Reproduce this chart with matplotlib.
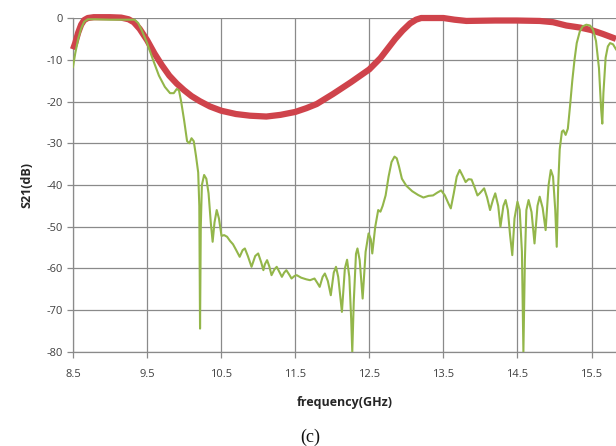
import matplotlib
matplotlib.use('Agg')
import matplotlib.pyplot as plt

plt.rcParams['axes.unicode_minus'] = False

green_f = [8.50, 8.53, 8.57, 8.61, 8.65, 8.70, 8.80, 9.00, 9.20, 9.33, 9.38, 9.43,
           9.50, 9.58, 9.66, 9.74, 9.81, 9.86, 9.90, 9.93, 9.96, 10.00, 10.04,
           10.07, 10.10, 10.13, 10.16, 10.19, 10.205, 10.215, 10.225, 10.24,
           10.27, 10.30, 10.33, 10.36, 10.385, 10.41, 10.44, 10.47, 10.505,
           10.54, 10.58, 10.62, 10.66, 10.70, 10.75, 10.79, 10.82, 10.86, 10.91,
           10.96, 11.00, 11.04, 11.07, 11.09, 11.12, 11.15, 11.18, 11.22, 11.25,
           11.29, 11.32, 11.35, 11.38, 11.42, 11.45, 11.49, 11.52, 11.58, 11.65,
           11.70, 11.76, 11.80, 11.83, 11.87, 11.90, 11.94, 11.98, 12.02, 12.05,
           12.08, 12.13, 12.17, 12.20, 12.23, 12.255, 12.27, 12.29, 12.32, 12.34,
           12.37, 12.41, 12.45, 12.49, 12.52, 12.54, 12.58, 12.62, 12.65, 12.68,
           12.72, 12.76, 12.80, 12.84, 12.87, 12.90, 12.94, 13.00, 13.08, 13.16,
           13.23, 13.30, 13.36, 13.42, 13.47, 13.52, 13.57, 13.60, 13.64, 13.68,
           13.72, 13.76, 13.80, 13.84, 13.88, 13.92, 13.96, 13.99, 14.05, 14.09,
           14.13, 14.17, 14.20, 14.24, 14.27, 14.31, 14.34, 14.37, 14.40, 14.43,
           14.46, 14.50, 14.53, 14.56, 14.58, 14.60, 14.62, 14.65, 14.69, 14.73,
           14.77, 14.80, 14.84, 14.88, 14.92, 14.95, 14.98, 15.01, 15.03, 15.05,
           15.07, 15.10, 15.12, 15.15, 15.18, 15.21, 15.24, 15.27, 15.30, 15.34,
           15.38, 15.43, 15.48, 15.52, 15.56, 15.60, 15.63, 15.645, 15.66, 15.69,
           15.72, 15.75, 15.79, 15.83]
green_db = [-11.7, -8.5, -5, -2.5, -0.9, -0.3, -0.3, -0.4, -0.4, -0.4, -1.2, -3,
            -6, -10, -13.8, -16.5, -18.0, -18.0, -17.0, -17.3, -20, -24.5, -29.5,
            -30.0, -28.8, -29.5, -33, -37, -45, -74.4, -50, -40,
            -37.6, -38.5, -42, -49, -53.6, -49, -46, -48, -52.2,
            -52, -52.4, -53.4, -54.2, -55.5, -57.2, -55.6, -55.2, -57, -59.6,
            -57, -56.4, -58.5, -60.4, -59, -58, -59.5, -61.6, -60.2, -59.6,
            -61, -62, -61, -60.4, -61.5, -62.4, -61.8, -61.6, -62.2, -62.6,
            -62.8, -62.4, -63.5, -64.4, -62, -61.2, -63, -66.4, -61, -59.6,
            -62, -70.4, -60, -57.9, -62, -72, -80, -68, -56.5, -55.2,
            -58, -67.2, -56, -51.6, -53, -56.4, -50, -46, -46.4, -45,
            -42.5, -38, -34.5, -33.2, -33.6, -35.5, -38.5, -40.2, -41.5, -42.4,
            -43, -42.6, -42.5, -41.8, -41.3, -42.5, -44.5, -45.6, -42, -38,
            -36.4, -37.8, -39.3, -38.6, -38.7, -40.5, -42.5, -42, -40.8, -43,
            -46, -43.5, -42, -45, -50, -45, -43.6, -46, -52, -56.8,
            -48, -44, -46, -56, -80, -58, -46, -43.6, -46.5, -54,
            -45, -42.8, -45.5, -50.8, -40, -36.4, -38, -46, -54.8, -40,
            -31.5, -27.2, -26.9, -28, -26.5, -21, -15, -10, -6, -3.3,
            -2, -1.6, -1.8, -2.8, -5.5, -12, -22, -25.3, -18, -9.5,
            -6.8, -6, -6.3, -7.5]

# second S21 trace (red)
red_f = [8.50, 8.53, 8.57, 8.61, 8.65, 8.70, 8.78, 9.00, 9.15, 9.25, 9.32, 9.40,
         9.50, 9.60, 9.70, 9.80, 9.90, 10.00, 10.10, 10.21, 10.35, 10.50, 10.70,
         10.89, 11.11, 11.30, 11.50, 11.65, 11.79, 12.01, 12.25, 12.50, 12.65,
         12.75, 12.85, 12.95, 13.05, 13.13, 13.20, 13.50, 13.65, 13.81, 14.20,
         14.49, 14.80, 14.98, 15.16, 15.35, 15.50, 15.65, 15.83]
red_db = [-7.5, -6, -3.5, -1.6, -0.5, 0, 0.2, 0.2, 0.1, -0.3, -1, -2.6,
          -5.3, -8.5, -11.3, -13.8, -15.7, -17.3, -18.7, -19.9, -21.2, -22.2, -23,
          -23.4, -23.6, -23.2, -22.5, -21.6, -20.6, -18.2, -15.4, -12.3, -9.6,
          -7.3, -5, -3, -1.3, -0.4, 0, 0, -0.4, -0.7, -0.6,
          -0.6, -0.7, -1, -1.8, -2.3, -2.9, -3.8, -5]

x_ticks = [8.5, 9.5, 10.5, 11.5, 12.5, 13.5, 14.5, 15.5]
y_ticks = [0, -10, -20, -30, -40, -50, -60, -70, -80]

fig = plt.figure(figsize=(6.16, 4.46), dpi=100)
ax = fig.add_axes([0.1185, 0.2108, 0.8815, 0.7488])

grid_c = '#8a8a8a'
ax.plot(red_f, red_db, color='#cf434b', lw=4.5, solid_capstyle='butt',
        solid_joinstyle='round', zorder=3, clip_on=False)
ax.plot(green_f, green_db, color='#93b64a', lw=1.5, solid_joinstyle='round', zorder=4)

ax.set_xlim(8.5, 15.83)
ax.set_ylim(-80, 0)
ax.set_xticks(x_ticks)
ax.set_xticklabels([str(t) for t in x_ticks])
ax.set_yticks(y_ticks)
ax.grid(True, color=grid_c, lw=0.9)
ax.set_axisbelow(True)

for s in ['top', 'right']:
    ax.spines[s].set_visible(False)
for s in ['left', 'bottom']:
    ax.spines[s].set_color(grid_c)
    ax.spines[s].set_linewidth(0.9)

ax.tick_params(axis='both', colors=grid_c, length=4, width=0.9, direction='out',
               labelcolor='#404040', labelsize=8)
for lab in ax.get_xticklabels() + ax.get_yticklabels():
    lab.set_family('Open Sans')
ax.tick_params(axis='x', pad=8)

ax.set_xlabel('frequency(GHz)', fontsize=9, fontweight='bold', family='Open Sans',
              color='#262626', labelpad=12)
ax.set_ylabel('S21(dB)', fontsize=9, fontweight='bold', family='Open Sans',
              color='#262626', labelpad=9)

fig.text(0.503, 0.0, '(c)', ha='center', va='bottom', fontsize=13,
         family='Liberation Serif', color='#111111')

fig.savefig('out.png', dpi=100)
